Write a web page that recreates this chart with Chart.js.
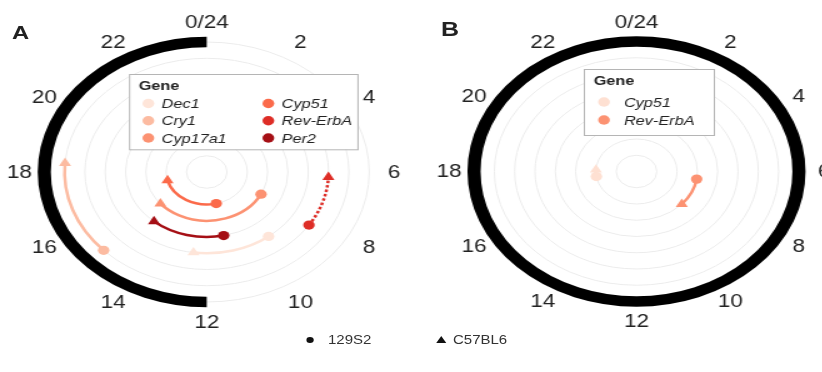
<!DOCTYPE html>
<html>
<head>
<meta charset="utf-8">
<script src="https://cdn.jsdelivr.net/npm/chart.js@4.4.1/dist/chart.umd.min.js"></script>
<style>
  body { margin: 0; background: #fff; width: 822px; height: 372px; overflow: hidden; }
  #fig { position: relative; width: 700px; height: 372px; transform: scaleX(1.25); transform-origin: 0 0;
         font-family: "Liberation Sans", Arial, sans-serif; color: #222; }
  canvas { position: absolute; top: 0; }
  #chartA { left: 0; }
  #chartB { left: 329px; }
  .tag { position: absolute; font-weight: bold; line-height: 1; }
  .key { position: absolute; font-size: 12px; line-height: 12px; color: #333; }
  .dot { position: absolute; width: 6.7px; height: 6.7px; border-radius: 50%; background: #111; }
  .tri { position: absolute; width: 0; height: 0; border-left: 4px solid transparent; border-right: 4px solid transparent; border-bottom: 7px solid #111; }
</style>
</head>
<body>
<div id="fig">
  <canvas id="chartA" width="330" height="345"></canvas>
  <canvas id="chartB" width="345" height="345"></canvas>
  <div class="tag" style="left:9.6px;top:22.5px;font-size:19px">A</div>
  <div class="tag" style="left:352.8px;top:18.5px;font-size:20px">B</div>
  <div class="dot" style="left:244.6px;top:336.6px"></div>
  <div class="key" style="left:262.4px;top:334px">129S2</div>
  <div class="tri" style="left:349.4px;top:335.5px"></div>
  <div class="key" style="left:362.4px;top:334px">C57BL6</div>
</div>
<script>
  // clock labels round both panels
  const hourLabels = ['0/24', '2', '4', '6', '8', '10', '12', '14', '16', '18', '20', '22'];
  const hourTicks = [0, 2, 4, 6, 8, 10, 12, 14, 16, 18, 20, 22];
  const gridRings = [1, 2, 3, 4, 5, 6, 7, 8];

  // panel A : phase (h) of each gene in 129S2 (circle) and C57BL6 (triangle)
  const genesA = ['Dec1', 'Cry1', 'Cyp17a1', 'Cyp51', 'Rev-ErbA', 'Per2'];
  const colorsA = ['#fee5d9', '#fcbba1', '#fc9272', '#fb6a4a', '#de2d26', '#a50f15'];
  const ringA = [5, 7, 3, 2, 6, 4];
  const phase129A = [9.5, 15.1, 7.8, 11.1, 8.2, 11.2];
  const phaseC57A = [12.5, 18.3, 15.3, 17.0, 6.2, 14.7];
  const dashedA = [false, false, false, false, true, false];
  const darkA = [12, 24];

  // panel B
  const genesB = ['Cyp51', 'Rev-ErbA'];
  const colorsB = ['#fee0d2', '#fc9272'];
  const ringB = [2, 3];
  const phase129B = [17.4, 6.6];
  const phaseC57B = [18.2, 8.8];
  const dashedB = [false, false];
  const darkB = [0, 24];

  const R = 8.5;
  const labelRing = 9.23;

  Chart.defaults.font.family = '"Liberation Sans", Arial, sans-serif';

  const polar = (hour, ring) => {
    const a = hour / 24 * 2 * Math.PI;
    return { x: ring * Math.sin(a), y: ring * Math.cos(a) };
  };
  const canvasAngle = (hour) => hour / 24 * 2 * Math.PI - Math.PI / 2;

  const makePanel = (id, p) => {
    // grid, dark phase bar, arcs between strains, legend and hour labels
    const decor = {
      id: 'polarDecor_' + id,
      beforeDatasetsDraw(chart) {
        const ctx = chart.ctx;
        const xs = chart.scales.x, ys = chart.scales.y;
        const cx = xs.getPixelForValue(0), cy = ys.getPixelForValue(0);
        const unit = xs.getPixelForValue(1) - cx;
        ctx.save();
        ctx.strokeStyle = '#ececec';
        ctx.lineWidth = 1;
        gridRings.forEach(r => {
          ctx.beginPath();
          ctx.arc(cx, cy, r * unit, 0, 2 * Math.PI);
          ctx.stroke();
        });
        // dark phase
        ctx.strokeStyle = '#000';
        ctx.lineWidth = 10.5;
        ctx.lineCap = 'butt';
        ctx.beginPath();
        ctx.arc(cx, cy, 8 * unit, canvasAngle(p.dark[0]), canvasAngle(p.dark[1]), false);
        ctx.stroke();
        // gene arcs
        ctx.lineWidth = 2.5;
        p.genes.forEach((g, i) => {
          const h1 = p.phase129[i], h2 = p.phaseC57[i];
          const diff = ((h2 - h1 + 36) % 24) - 12;
          ctx.strokeStyle = p.colors[i];
          ctx.setLineDash(p.dashed[i] ? [2.5, 2] : []);
          ctx.beginPath();
          ctx.arc(cx, cy, p.ring[i] * unit, canvasAngle(h1), canvasAngle(h2), diff < 0);
          ctx.stroke();
        });
        ctx.restore();
      },
      afterDatasetsDraw(chart) {
        const ctx = chart.ctx;
        const xs = chart.scales.x, ys = chart.scales.y;
        const cx = xs.getPixelForValue(0), cy = ys.getPixelForValue(0);
        const unit = xs.getPixelForValue(1) - cx;
        ctx.save();
        // hour labels
        ctx.fillStyle = '#222';
        ctx.font = '18px "Liberation Sans", Arial, sans-serif';
        ctx.textAlign = 'center';
        ctx.textBaseline = 'middle';
        hourTicks.forEach((h, i) => {
          const a = canvasAngle(h);
          ctx.fillText(hourLabels[i], cx + Math.cos(a) * labelRing * unit, cy + Math.sin(a) * labelRing * unit + 1);
        });
        // legend box
        const L = p.legend;
        ctx.fillStyle = '#fff';
        ctx.fillRect(L.box[0], L.box[1], L.box[2], L.box[3]);
        ctx.strokeStyle = '#b5b5b5';
        ctx.lineWidth = 1;
        ctx.strokeRect(L.box[0] + 0.5, L.box[1] + 0.5, L.box[2], L.box[3]);
        ctx.textAlign = 'left';
        ctx.fillStyle = '#222';
        ctx.font = 'bold 13px "Liberation Sans", Arial, sans-serif';
        ctx.fillText('Gene', L.titleX, L.titleY);
        ctx.font = 'italic 13px "Liberation Sans", Arial, sans-serif';
        p.genes.forEach((g, i) => {
          const col = Math.floor(i / L.rows), row = i % L.rows;
          ctx.fillStyle = p.colors[i];
          ctx.beginPath();
          ctx.arc(L.markX[col], L.rowY[row], 4.7, 0, 2 * Math.PI);
          ctx.fill();
          ctx.fillStyle = '#222';
          ctx.fillText(g, L.textX[col], L.rowY[row] + 1);
        });
        ctx.restore();
      }
    };

    return new Chart(document.getElementById(id), {
      type: 'scatter',
      data: {
        datasets: p.genes.map((g, i) => ({
          label: g,
          data: [polar(p.phase129[i], p.ring[i]), polar(p.phaseC57[i], p.ring[i])],
          pointStyle: ['circle', 'triangle'],
          pointRadius: [4.6, 5.6],
          backgroundColor: p.colors[i],
          borderColor: p.colors[i],
          borderWidth: 0,
          clip: false
        }))
      },
      options: {
        responsive: false,
        animation: false,
        events: [],
        layout: { padding: p.pad },
        scales: {
          x: { type: 'linear', min: -R, max: R, display: false },
          y: { type: 'linear', min: -R, max: R, display: false }
        },
        plugins: { legend: { display: false }, tooltip: { enabled: false } }
      },
      plugins: [decor]
    });
  };

  makePanel('chartA', {
    genes: genesA, colors: colorsA, ring: ringA, phase129: phase129A, phaseC57: phaseC57A,
    dashed: dashedA, dark: darkA,
    pad: { left: 27.3, right: 26.5, top: 33.9, bottom: 34.9 },
    legend: { box: [103.2, 74, 182.7, 75.3], titleX: 111, titleY: 86, rows: 3,
              markX: [118.7, 214.7], textX: [129.3, 225.3], rowY: [103.5, 120.7, 138] }
  });

  makePanel('chartB', {
    genes: genesB, colors: colorsB, ring: ringB, phase129: phase129B, phaseC57: phaseC57B,
    dashed: dashedB, dark: darkB,
    pad: { left: 42.1, right: 26.7, top: 33.4, bottom: 35.4 },
    legend: { box: [138, 69, 104, 66], titleX: 146, titleY: 81.5, rows: 2,
              markX: [154.2], textX: [170.2], rowY: [102, 120] }
  });
</script>
</body>
</html>
